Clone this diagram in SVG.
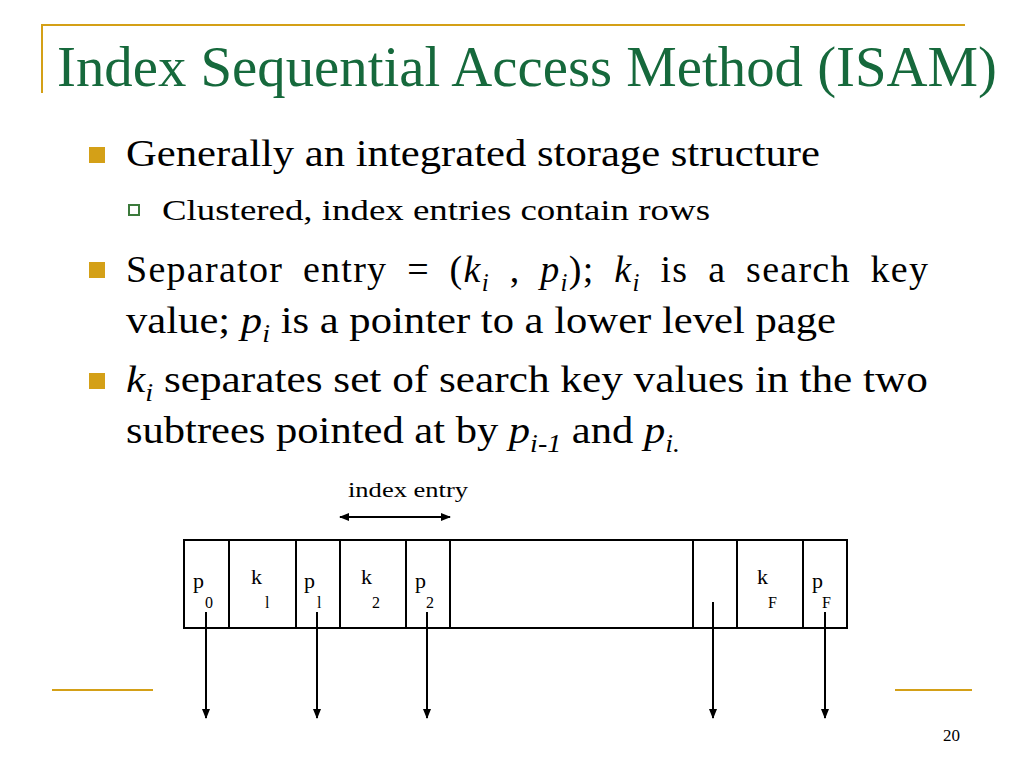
<svg xmlns="http://www.w3.org/2000/svg" width="1024" height="768" viewBox="0 0 1024 768">
<style>
.i{font-style:italic}
.gold{stroke:#d4a017;stroke-width:2;fill:none}
.cell{fill:#fff;stroke:#000;stroke-width:2}
</style>
<defs>
<marker id="ad" viewBox="0 0 10 10" refX="9" refY="5" markerWidth="10" markerHeight="10" orient="auto-start-reverse" markerUnits="userSpaceOnUse">
<path d="M0,1 L10,5 L0,9 Z" fill="#000"/>
</marker>
</defs>
<rect width="1024" height="768" fill="#fff"/>
<path class="gold" d="M42,93 V25 H965"/>
<line class="gold" x1="52" y1="690" x2="153" y2="690"/>
<line class="gold" x1="895" y1="690" x2="972" y2="690"/>
<text x="57" y="86" font-family="Liberation Serif, serif" font-size="56" fill="#16693c" textLength="940" lengthAdjust="spacingAndGlyphs">Index Sequential Access Method (ISAM)</text>
<g fill="#d4a017">
<rect x="89" y="147" width="16" height="16"/>
<rect x="89" y="262" width="16" height="16"/>
<rect x="89" y="373" width="16" height="16"/>
</g>
<rect x="129" y="205" width="10" height="10" fill="#fff" stroke="#3c7a3c" stroke-width="2"/>
<g font-family="Liberation Serif, serif" font-size="38" fill="#000">
<text x="126" y="166" textLength="694" lengthAdjust="spacingAndGlyphs">Generally an integrated storage structure</text>
<text x="162" y="220" font-size="30" textLength="548" lengthAdjust="spacingAndGlyphs">Clustered, index entries contain rows</text>
<text x="126" y="282" word-spacing="9" textLength="802" lengthAdjust="spacing">Separator entry = (<tspan class="i">k</tspan><tspan class="i" font-size="25" dy="9">i</tspan><tspan dy="-9"> , </tspan><tspan class="i">p</tspan><tspan class="i" font-size="25" dy="9">i</tspan><tspan dy="-9">); </tspan><tspan class="i">k</tspan><tspan class="i" font-size="25" dy="9">i</tspan><tspan dy="-9"> is a search key</tspan></text>
<text x="126" y="333" textLength="710" lengthAdjust="spacingAndGlyphs">value; <tspan class="i">p</tspan><tspan class="i" font-size="25" dy="9">i</tspan><tspan dy="-9"> is a pointer to a lower level page</tspan></text>
<text x="126" y="392" textLength="802" lengthAdjust="spacingAndGlyphs"><tspan class="i">k</tspan><tspan class="i" font-size="25" dy="9">i</tspan><tspan dy="-9"> separates set of search key values in the two</tspan></text>
<text x="126" y="443" textLength="554" lengthAdjust="spacingAndGlyphs">subtrees pointed at by <tspan class="i">p</tspan><tspan class="i" font-size="25" dy="9">i-1</tspan><tspan dy="-9"> and </tspan><tspan class="i">p</tspan><tspan class="i" font-size="25" dy="9">i.</tspan></text>
</g>
<g id="node-page" font-family="Liberation Serif, serif" fill="#000">
<rect class="cell" x="184" y="540" width="663" height="88"/>
<g stroke="#000" stroke-width="2">
<line x1="229" y1="540" x2="229" y2="628"/>
<line x1="296" y1="540" x2="296" y2="628"/>
<line x1="340" y1="540" x2="340" y2="628"/>
<line x1="406" y1="540" x2="406" y2="628"/>
<line x1="450" y1="540" x2="450" y2="628"/>
<line x1="693" y1="540" x2="693" y2="628"/>
<line x1="737" y1="540" x2="737" y2="628"/>
<line x1="803" y1="540" x2="803" y2="628"/>
</g>
<g font-size="22">
<text x="193" y="588">p</text><text x="251" y="584">k</text><text x="304" y="588">p</text><text x="361" y="584">k</text><text x="415" y="588">p</text><text x="757" y="584">k</text><text x="812" y="588">p</text>
</g>
<g font-size="16">
<text x="205" y="608">0</text><text x="265" y="608">l</text><text x="317" y="608">l</text><text x="372" y="608">2</text><text x="426" y="608">2</text><text x="768" y="608">F</text><text x="822" y="608">F</text>
</g>
</g>
<text x="348" y="497" font-family="Liberation Serif, serif" font-size="20" fill="#000" textLength="120" lengthAdjust="spacingAndGlyphs">index entry</text>
<g id="connectors" stroke="#000" stroke-width="2" fill="none">
<line x1="340" y1="517" x2="450" y2="517" marker-start="url(#ad)" marker-end="url(#ad)"/>
<line x1="206" y1="612" x2="206" y2="718" marker-end="url(#ad)"/>
<line x1="317" y1="612" x2="317" y2="718" marker-end="url(#ad)"/>
<line x1="427" y1="612" x2="427" y2="718" marker-end="url(#ad)"/>
<line x1="713" y1="602" x2="713" y2="718" marker-end="url(#ad)"/>
<line x1="825" y1="612" x2="825" y2="718" marker-end="url(#ad)"/>
</g>
<text x="943" y="741" font-family="Liberation Serif, serif" font-size="17" fill="#000">20</text>
</svg>
